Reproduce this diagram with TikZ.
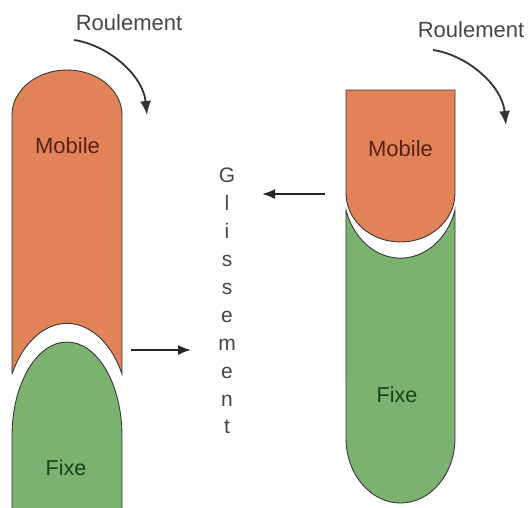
\documentclass[tikz,border=0pt]{standalone}
\usepackage{fontspec}
\setmainfont{Liberation Sans}
\usetikzlibrary{arrows.meta}
\definecolor{mobfill}{RGB}{226,130,88}
\definecolor{fixfill}{RGB}{124,178,112}
\definecolor{mobtext}{RGB}{88,34,18}
\definecolor{fixtext}{RGB}{24,64,26}
\definecolor{labtext}{RGB}{70,70,70}
\definecolor{edge}{RGB}{55,55,55}
\begin{document}
\begin{tikzpicture}[x=1pt,y=-1pt,
  mobpart/.style={fill=mobfill,draw=edge,line width=0.9pt},
  fixpart/.style={fill=fixfill,draw=edge,line width=0.9pt},
  moblabel/.style={font=\fontsize{22}{26}\selectfont,text=mobtext,anchor=base},
  fixlabel/.style={font=\fontsize{21.5}{26}\selectfont,text=fixtext,anchor=base},
  roul/.style={font=\fontsize{22}{26}\selectfont,text=labtext,anchor=base},
  slide/.style={draw=black!85,line width=1.8pt,-{Latex[length=13pt,width=10pt]}},
  turn/.style={draw=black!80,line width=1.8pt,-{Latex[length=14pt,width=11pt]}}]
\useasboundingbox (0,0) rectangle (530,507);
% ---- left pair ----
\draw[fixpart] (12,515) -- (12,436)
  arc[start angle=180,end angle=360,x radius=55,y radius=94] -- (122,515) -- cycle;
\draw[mobpart] (12,374) -- (12,115)
  arc[start angle=180,end angle=360,x radius=55,y radius=45] -- (122,374)
  arc[start angle=-27.5,end angle=-152.5,x radius=62,y radius=94] -- cycle;
% ---- right pair ----
\draw[fixpart] (455,210)
  arc[start angle=17,end angle=163,x radius=57,y radius=68] -- (346,438)
  arc[start angle=180,end angle=0,x radius=54.5,y radius=65] -- cycle;
\draw[mobpart] (346,90) -- (455,90) -- (455,193)
  arc[start angle=0,end angle=180,x radius=54.5,y radius=49] -- cycle;
% ---- labels ----
\node[moblabel] (mobL) at (67.5,153) {Mobile};
\node[fixlabel] (fixL) at (66,475) {Fixe};
\node[moblabel] (mobR) at (400.5,156) {Mobile};
\node[fixlabel] (fixR) at (397,402) {Fixe};
\node[roul] (roulL) at (129,30) {Roulement};
\node[roul] (roulR) at (471,37) {Roulement};
\node[font=\fontsize{21}{27.9}\selectfont,text=labtext,align=center,
  inner sep=0pt,anchor=north] (gliss) at (227,168)
  {G\\l\\i\\s\\s\\e\\m\\e\\n\\t};
% ---- arrows ----
\coordinate (lowtail) at (131,350);
\coordinate (lowhead) at (191,350);
\coordinate (uptail) at (325,194);
\coordinate (uphead) at (262,194);
\coordinate (turnLa) at (74,40);
\coordinate (turnLb) at (147,115);
\coordinate (turnRa) at (433,50);
\coordinate (turnRb) at (506,125);
\draw[slide] (lowtail) -- (lowhead);
\draw[slide] (uptail) -- (uphead);
\draw[turn] (turnLa) .. controls (108,45) and (143,75) .. (turnLb);
\draw[turn] (turnRa) .. controls (467,55) and (502,85) .. (turnRb);
\end{tikzpicture}
\end{document}
